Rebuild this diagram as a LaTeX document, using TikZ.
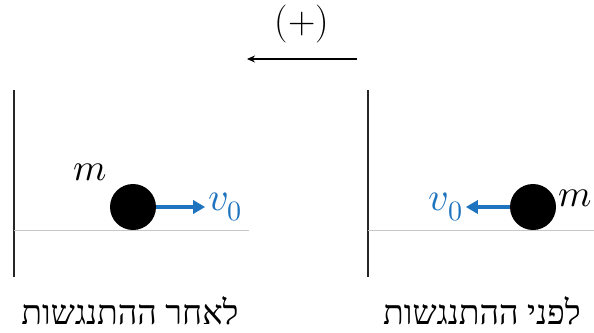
\documentclass[tikz,border=0pt]{standalone}
\usepackage{fontspec}
\usepackage{unicode-math}
\usepackage{xcolor}
\usepackage{tikz}
\usetikzlibrary{arrows.meta,positioning}
\TeXXeTstate=1
\newfontfamily\hebfont[Script=Hebrew]{Liberation Serif}
\definecolor{velblue}{HTML}{1F74C0}

\begin{document}
\begin{tikzpicture}[
  x=1pt,y=-1pt,
  wall/.style={line width=1.6pt,black!85},
  floor/.style={line width=1pt,black!22},
  ball/.style={circle,fill=black,minimum size=46pt,inner sep=0pt},
  vel/.style={-{Triangle[length=12pt,width=13pt]},line width=3.2pt,velblue},
  sense/.style={-{Stealth[length=8pt,width=7pt]},line width=1.8pt},
  mass/.style={inner sep=0pt,font=\fontsize{38}{40}\selectfont},
  vlabel/.style={inner sep=0pt,text=velblue,font=\fontsize{40}{42}\selectfont},
  caption/.style={inner sep=0pt,anchor=base,font=\hebfont\fontsize{34}{36}\selectfont}
]
\useasboundingbox (0,0) rectangle (594,332);

% positive direction
\coordinate (senseR) at (357,59);
\coordinate (senseL) at (247,59);
\draw[sense] (senseR) -- (senseL);
\node[inner sep=0pt,font=\fontsize{38}{40}\selectfont] (plus) at (302,24) {(+)};

% after the collision
\draw[wall] (14,90) -- (14,277);
\draw[floor] (14,230) -- (249,230);
\node[ball] (ballA) at (133,207) {};
\draw[vel] (ballA.east) -- ++(49,0) coordinate (tipA);
\node[vlabel,right=3pt of tipA] (velA) {$v_0$};
\node[mass] (massA) at (90,172) {$m$};
\node[caption] (capA) at (130,324) {\beginR לאחר ההתנגשות\endR};

% before the collision
\draw[wall] (368,90) -- (368,277);
\draw[floor] (368,230) -- (594,230);
\node[ball] (ballB) at (533,207) {};
\draw[vel] (ballB.west) -- ++(-44,0) coordinate (tipB);
\node[vlabel,left=3pt of tipB] (velB) {$v_0$};
\node[mass,anchor=base west] (massB) at (558,206) {$m$};
\node[caption] (capB) at (482,324) {\beginR לפני ההתנגשות\endR};
\end{tikzpicture}
\end{document}
